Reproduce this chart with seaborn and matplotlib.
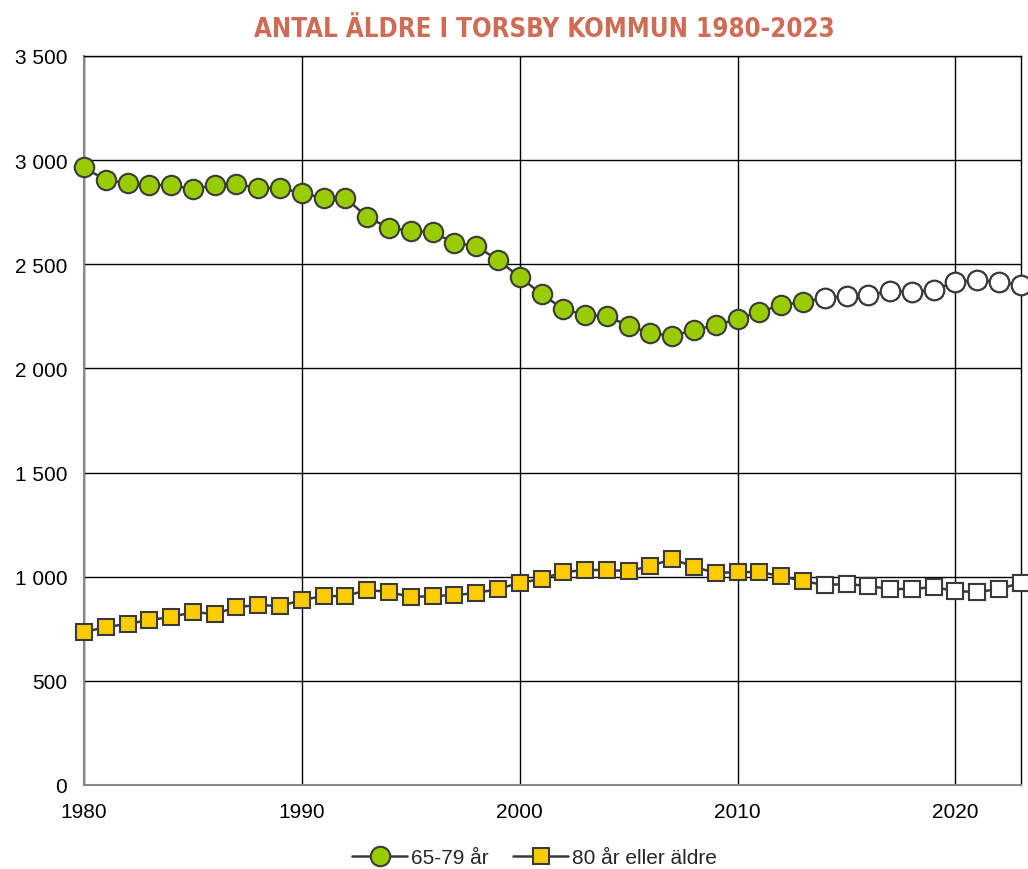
import matplotlib
matplotlib.use("Agg")
import matplotlib.pyplot as plt
import seaborn as sns
import pandas as pd
import numpy as np

years = list(range(1980, 2024))
age_65_79 = [2965, 2904, 2890, 2880, 2880, 2861, 2880, 2885, 2866, 2866,
             2842, 2818, 2818, 2727, 2674, 2660, 2655, 2602, 2588, 2520,
             2439, 2357, 2285, 2256, 2252, 2204, 2170, 2156, 2184, 2208,
             2237, 2271, 2304, 2319, 2338, 2348, 2352, 2371, 2367, 2376,
             2415, 2424, 2415, 2400]
age_80_plus = [734, 758, 773, 792, 806, 830, 821, 854, 864, 859,
               888, 907, 907, 936, 927, 902, 907, 912, 921, 941,
               970, 989, 1022, 1032, 1032, 1027, 1051, 1085, 1047, 1018,
               1022, 1022, 1003, 979, 960, 965, 955, 941, 941, 950,
               931, 926, 941, 970]
# points drawn hollow (white) from this year on
hollow_from = 2014

df = pd.DataFrame({"year": years, "a": age_65_79, "b": age_80_plus})
df_hollow = df[df["year"] >= hollow_from]

sns.set_style("white")
plt.rcParams["font.family"] = ["Liberation Sans", "DejaVu Sans"]

fig, ax = plt.subplots(figsize=(10.28, 8.7), dpi=100)
fig.subplots_adjust(left=0.0817, right=0.993, top=0.9345, bottom=0.0966)

line_col = "#3a3a3a"
sns.lineplot(data=df, x="year", y="a", ax=ax, color=line_col, lw=1.8,
             marker="o", markersize=14, markerfacecolor="#99CC00",
             markeredgecolor=line_col, markeredgewidth=1.5, label="65-79 år",
             zorder=3)
sns.lineplot(data=df, x="year", y="b", ax=ax, color=line_col, lw=1.8,
             marker="s", markersize=12, markerfacecolor="#FFCC00",
             markeredgecolor=line_col, markeredgewidth=1.5,
             label="80 år eller äldre", zorder=3)
# hollow markers for later years
sns.lineplot(data=df_hollow, x="year", y="a", ax=ax, color=line_col, lw=0,
             marker="o", markersize=14, markerfacecolor="white",
             markeredgecolor=line_col, markeredgewidth=1.5, legend=False,
             zorder=4)
sns.lineplot(data=df_hollow, x="year", y="b", ax=ax, color=line_col, lw=0,
             marker="s", markersize=12, markerfacecolor="white",
             markeredgecolor=line_col, markeredgewidth=1.5, legend=False,
             zorder=4)

ax.set_xlim(1980, 2023)
ax.set_ylim(0, 3500)
ax.set_xticks(range(1980, 2021, 10))
ax.set_yticks(range(0, 3501, 500))
ax.set_yticklabels([f"{v:,}".replace(",", " ") for v in range(0, 3501, 500)])
ax.tick_params(axis="both", labelsize=15, length=5, width=1.5,
               color="#999999", labelcolor="black")
ax.tick_params(axis="y", pad=7)
ax.tick_params(axis="x", pad=7)
ax.grid(True, color="black", lw=1)
ax.set_xlabel("")
ax.set_ylabel("")
for s in ["top", "right"]:
    ax.spines[s].set_color("black")
    ax.spines[s].set_linewidth(1)
for s in ["left", "bottom"]:
    ax.spines[s].set_color("#888888")
    ax.spines[s].set_linewidth(1.5)
ax.set_axisbelow(True)
for ln in ax.lines:
    ln.set_clip_on(False)

ax.get_legend().remove()
handles, labels = ax.get_legend_handles_labels()
fig.legend(handles[:2], labels[:2], loc="center",
           bbox_to_anchor=(0.52, 0.013), ncol=2, frameon=False, fontsize=15,
           handlelength=2.6, columnspacing=1.2, handletextpad=0.2)

fig.text(0.53, 0.966, "ANTAL ÄLDRE I TORSBY KOMMUN 1980-2023",
         ha="center", va="center", fontsize=18.5, fontweight="bold",
         fontstretch="condensed", color="#D06B55",
         family=["DejaVu Sans"])

fig.savefig("out.png", dpi=100)
